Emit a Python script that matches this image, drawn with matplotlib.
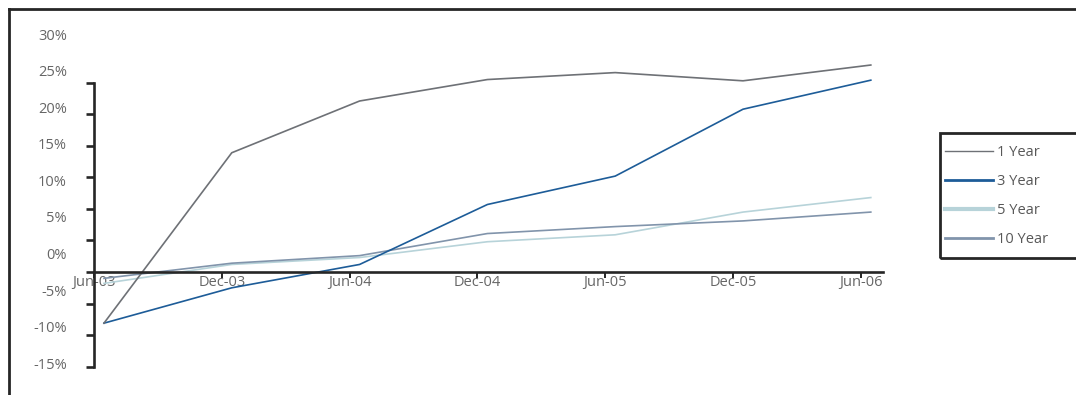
import numpy as np
import matplotlib
matplotlib.use("Agg")
import matplotlib.pyplot as plt
from matplotlib.lines import Line2D
from matplotlib.patches import Rectangle

# 数据（从图上读出的近似值，单位 %）
periods = ["Jun-03", "Dec-03", "Jun-04", "Dec-04", "Jun-05", "Dec-05", "Jun-06"]
pct_ticks = [-15, -10, -5, 0, 5, 10, 15, 20, 25, 30]
pct_labels = [f"{v}%" for v in pct_ticks]

series_names = ["1 Year", "3 Year", "5 Year", "10 Year"]
one_year = [-8.1, 18.9, 27.1, 30.5, 31.6, 30.3, 32.8]
three_year = [-8.1, -2.5, 1.2, 10.7, 15.2, 25.8, 30.4]
five_year = [-1.8, 1.2, 2.3, 4.8, 5.9, 9.5, 11.8]
ten_year = [-1.0, 1.4, 2.6, 6.1, 7.2, 8.1, 9.5]

colors = {"1 Year": "#6e7176", "3 Year": "#1d5c98",
          "5 Year": "#b7d3d9", "10 Year": "#8194ab"}
legend_widths = {"1 Year": 1.0, "3 Year": 2.0, "5 Year": 3.0, "10 Year": 2.0}

W, H = 1076, 395
plt.rcParams["font.family"] = ["Open Sans", "DejaVu Sans"]
TEXT = "#666666"
DARK = "#262626"


def px_box(left, top, right, bottom):
    """像素坐标(左上原点) -> figure 比例坐标"""
    return [left / W, 1 - bottom / H, (right - left) / W, (bottom - top) / H]


fig = plt.figure(figsize=(W / 100, H / 100), dpi=100)

ax = fig.add_axes(px_box(94, 82.7, 882.7, 366.7))
x = np.arange(len(periods))
shift = 0.078
ax.set_xlim(-shift, 6.093)
ax.set_ylim(-15, 30)

data = {"1 Year": one_year, "3 Year": three_year,
        "5 Year": five_year, "10 Year": ten_year}
for name in ["5 Year", "10 Year", "3 Year", "1 Year"]:
    ax.plot(x, data[name], color=colors[name], lw=1.2, clip_on=False,
            solid_joinstyle="miter")

ax.patch.set_visible(False)
for s in ["top", "right"]:
    ax.spines[s].set_visible(False)
ax.spines["left"].set_linewidth(1.9)
ax.spines["left"].set_color(DARK)
ax.spines["bottom"].set_position(("data", 0))
ax.spines["bottom"].set_linewidth(1.9)
ax.spines["bottom"].set_color(DARK)

ax.set_yticks(pct_ticks)
ax.set_yticklabels([])
ax.tick_params(axis="y", direction="out", length=5.8, width=1.9, color=DARK)

ax.set_xticks(x - shift)
ax.set_xticklabels(periods)
ax.tick_params(axis="x", direction="out", length=4.3, width=1.4, color=DARK,
               pad=-2.5, labelsize=10.5, labelcolor=TEXT)

# y 轴标签（原图中标签与刻度并未对齐，单独一个轴来放）
lab = fig.add_axes(px_box(67, 34, 68, 363.3))
lab.set_ylim(-15, 30)
lab.set_yticks(pct_ticks)
lab.set_yticklabels(pct_labels)
lab.set_xticks([])
for s in lab.spines.values():
    s.set_visible(False)
lab.patch.set_visible(False)
lab.tick_params(axis="y", length=0, pad=0, labelsize=10.5, labelcolor=TEXT)

# 外框（左、上两边）
fig.add_artist(Line2D([9 / W, 9 / W], [0, 1 - 8.5 / H],
                      transform=fig.transFigure, color=DARK, lw=2.0))
fig.add_artist(Line2D([9 / W, 1], [1 - 8.5 / H, 1 - 8.5 / H],
                      transform=fig.transFigure, color=DARK, lw=2.0))

# 图例框
fig.add_artist(Rectangle((939.5 / W, 1 - 258.3 / H), 200 / W, 125 / H,
                         transform=fig.transFigure, fill=False,
                         edgecolor=DARK, lw=2.0, clip_on=False))
handles = [Line2D([0], [0], color=colors[n], lw=legend_widths[n])
           for n in series_names]
fig.legend(handles, series_names, loc="upper left",
           bbox_to_anchor=(945 / W, 1 - 145 / H), frameon=False,
           borderpad=0, borderaxespad=0, handlelength=3.27,
           handletextpad=0.3, labelspacing=0.97, fontsize=10.5,
           labelcolor="#585858")

fig.savefig("out.png", dpi=100)
